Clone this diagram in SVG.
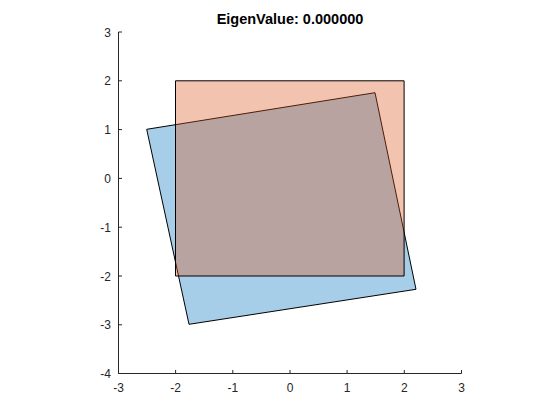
<svg xmlns="http://www.w3.org/2000/svg" width="560" height="420" viewBox="0 0 560 420">
<style>
.ax{stroke:#262626;stroke-width:1;fill:none}
.tl{font-family:"Liberation Sans",Arial,sans-serif;font-size:12px;fill:#262626}
.title{font-family:"Liberation Sans",Arial,sans-serif;font-size:14.5px;font-weight:bold;fill:#000}
.poly{stroke:#000;stroke-width:1;stroke-linejoin:miter}
</style>
<rect width="560" height="420" fill="#fff"/>
<g id="blue-square">
<polygon class="poly" points="146.7,129.3 375,92.7 416,289.3 189,324.3" fill="#0072bd" fill-opacity="0.35"/>
</g>
<g id="orange-square">
<polygon class="poly" points="175.5,80.8 404.1,80.8 404.1,276 175.5,276" fill="#d95319" fill-opacity="0.35"/>
</g>
<g id="axes">
<path class="ax" d="M118.5,32V373.5H461.5"/>
<path class="ax" d="M118.5,373.5v-3.5M175.6,373.5v-3.5M232.8,373.5v-3.5M290,373.5v-3.5M347.1,373.5v-3.5M404.3,373.5v-3.5M461.5,373.5v-3.5"/>
<path class="ax" d="M118.5,32h3.5M118.5,80.8h3.5M118.5,129.6h3.5M118.5,178.4h3.5M118.5,227.2h3.5M118.5,276h3.5M118.5,324.8h3.5M118.5,373.5h3.5"/>
<g class="tl" text-anchor="middle">
<text x="118.5" y="392">-3</text>
<text x="175.6" y="392">-2</text>
<text x="232.8" y="392">-1</text>
<text x="290" y="392">0</text>
<text x="347.1" y="392">1</text>
<text x="404.3" y="392">2</text>
<text x="461.5" y="392">3</text>
</g>
<g class="tl" text-anchor="end">
<text x="111" y="36.5">3</text>
<text x="111" y="85.3">2</text>
<text x="111" y="134.1">1</text>
<text x="111" y="182.9">0</text>
<text x="111" y="231.7">-1</text>
<text x="111" y="280.5">-2</text>
<text x="111" y="329.3">-3</text>
<text x="111" y="378">-4</text>
</g>
<text class="title" x="290" y="24" text-anchor="middle">EigenValue: 0.000000</text>
</g>
</svg>
